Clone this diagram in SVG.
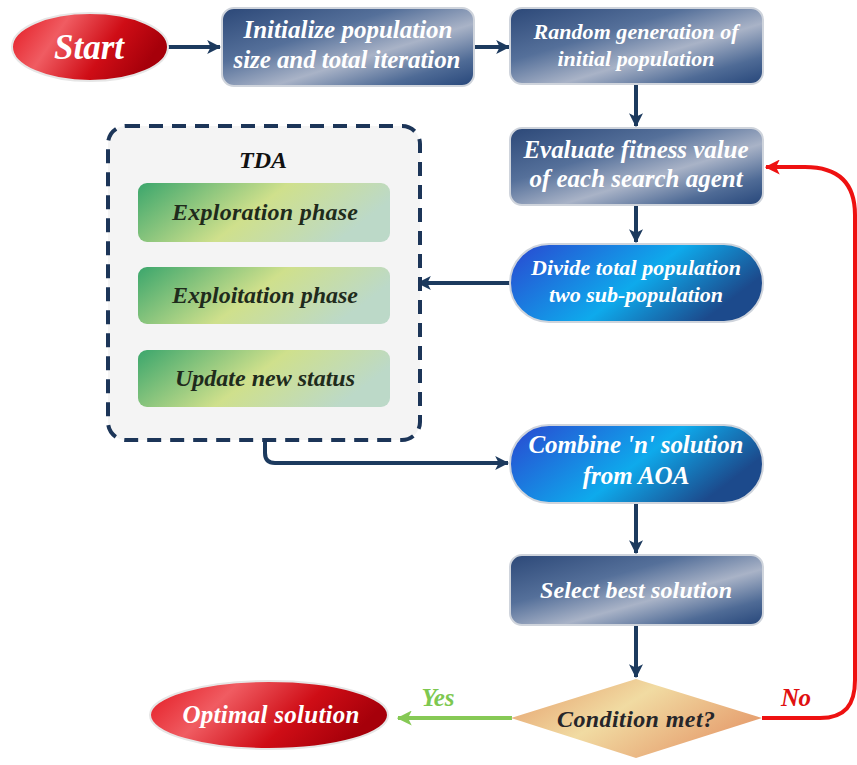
<svg xmlns="http://www.w3.org/2000/svg" width="857" height="765" viewBox="0 0 857 765">
  <defs>
    <linearGradient id="gNavy" x1="0" y1="0" x2="1" y2="1">
      <stop offset="0" stop-color="#2c4878"/>
      <stop offset="0.35" stop-color="#55709a"/>
      <stop offset="0.6" stop-color="#a9b3c7"/>
      <stop offset="0.82" stop-color="#4f6b96"/>
      <stop offset="1" stop-color="#26467a"/>
    </linearGradient>
    <linearGradient id="gBlue" x1="0" y1="0" x2="1" y2="0.4">
      <stop offset="0" stop-color="#2a46d0"/>
      <stop offset="0.6" stop-color="#0eaaec"/>
      <stop offset="1" stop-color="#1c4a8c"/>
    </linearGradient>
    <linearGradient id="gRed" x1="0" y1="0" x2="1" y2="0.3">
      <stop offset="0" stop-color="#e3161f"/>
      <stop offset="0.35" stop-color="#f05c62"/>
      <stop offset="0.7" stop-color="#cf0d16"/>
      <stop offset="1" stop-color="#a6000a"/>
    </linearGradient>
    <linearGradient id="gGreen" x1="0" y1="0" x2="1" y2="0.3">
      <stop offset="0" stop-color="#3ba66c"/>
      <stop offset="0.55" stop-color="#cfe08c"/>
      <stop offset="1" stop-color="#bcd9c8"/>
    </linearGradient>
    <linearGradient id="gTan" x1="0" y1="0" x2="1" y2="0.5">
      <stop offset="0" stop-color="#e49a68"/>
      <stop offset="0.5" stop-color="#f1dba2"/>
      <stop offset="1" stop-color="#e6a070"/>
    </linearGradient>
    <marker id="aNavy" viewBox="0 0 12 12" refX="11" refY="6" markerWidth="14" markerHeight="14" markerUnits="userSpaceOnUse" orient="auto">
      <path d="M0,0 L12,6 L0,12 L3,6 Z" fill="#1c3a5e"/>
    </marker>
    <marker id="aRed" viewBox="0 0 12 12" refX="11" refY="6" markerWidth="15" markerHeight="15" markerUnits="userSpaceOnUse" orient="auto">
      <path d="M0,0 L12,6 L0,12 L3,6 Z" fill="#ee1111"/>
    </marker>
    <marker id="aGreen" viewBox="0 0 12 12" refX="11" refY="6" markerWidth="15" markerHeight="15" markerUnits="userSpaceOnUse" orient="auto">
      <path d="M0,0 L12,6 L0,12 L3,6 Z" fill="#86c955"/>
    </marker>
  </defs>
  <style>
    text { font-family: "Liberation Serif", "Times New Roman", serif; font-weight: bold; font-style: italic; text-anchor: middle; }
    .lt { fill: #ffffff; }
    .dk { fill: #1f2b1c; }
    .box { stroke: #cfd4dc; stroke-width: 2; }
    .link { fill: none; stroke: #1c3a5e; stroke-width: 4; }
  </style>

  <rect width="857" height="765" fill="#ffffff"/>

  <g id="connectors">
    <path class="link" d="M168,47 H220" marker-end="url(#aNavy)"/>
    <path class="link" d="M474,47 H509" marker-end="url(#aNavy)"/>
    <path class="link" d="M636,84 V126" marker-end="url(#aNavy)"/>
    <path class="link" d="M636,205 V242" marker-end="url(#aNavy)"/>
    <path class="link" d="M510,283 H418" marker-end="url(#aNavy)"/>
    <path class="link" d="M265,440 V453 Q265,463 275,463 H508" marker-end="url(#aNavy)"/>
    <path class="link" d="M636,503 V553" marker-end="url(#aNavy)"/>
    <path class="link" d="M636,625 V677" marker-end="url(#aNavy)"/>
    <path d="M512,718 H398" fill="none" stroke="#86c955" stroke-width="4" marker-end="url(#aGreen)"/>
    <path d="M762,718 H820 C845,718 855,705 855,680 V215 C855,185 840,167 805,167 H766" fill="none" stroke="#ee1111" stroke-width="4" marker-end="url(#aRed)"/>
    <text x="438" y="706" font-size="25" fill="#7ec850" textLength="33">Yes</text>
    <text x="796" y="706" font-size="25" fill="#e01010" textLength="30">No</text>
  </g>

  <g id="start">
    <ellipse cx="90" cy="47" rx="78" ry="34" fill="url(#gRed)" stroke="#e6e6e6" stroke-width="2"/>
    <text class="lt" x="89" y="59" font-size="35">Start</text>
  </g>

  <g id="init">
    <rect class="box" x="222" y="8" width="252" height="78" rx="12" fill="url(#gNavy)"/>
    <text class="lt" x="348" y="38" font-size="25" textLength="209">Initialize population</text>
    <text class="lt" x="347" y="68" font-size="25" textLength="227">size and total iteration</text>
  </g>

  <g id="random">
    <rect class="box" x="510" y="8" width="253" height="76" rx="12" fill="url(#gNavy)"/>
    <text class="lt" x="636" y="39" font-size="22" textLength="205">Random generation of</text>
    <text class="lt" x="636" y="66" font-size="22">initial population</text>
  </g>

  <g id="evaluate">
    <rect class="box" x="510" y="128" width="253" height="77" rx="12" fill="url(#gNavy)"/>
    <text class="lt" x="636" y="158" font-size="25" textLength="225">Evaluate fitness value</text>
    <text class="lt" x="636" y="187" font-size="25">of each search agent</text>
  </g>

  <g id="divide">
    <rect class="box" x="510" y="244" width="253" height="78" rx="39" fill="url(#gBlue)"/>
    <text class="lt" x="636" y="275" font-size="22" textLength="210">Divide total population</text>
    <text class="lt" x="636" y="302" font-size="22">two sub-population</text>
  </g>

  <g id="tda">
    <rect x="108" y="126" width="312" height="314" rx="18" fill="#f4f4f4" stroke="#1c3558" stroke-width="4" stroke-dasharray="14 9"/>
    <text x="263" y="168" font-size="24" fill="#111111">TDA</text>
    <g id="exploration">
      <rect x="138" y="183" width="252" height="59" rx="9" fill="url(#gGreen)"/>
      <text class="dk" x="265" y="220" font-size="24" textLength="186">Exploration phase</text>
    </g>
    <g id="exploitation">
      <rect x="138" y="267" width="252" height="57" rx="9" fill="url(#gGreen)"/>
      <text class="dk" x="265" y="303" font-size="24">Exploitation phase</text>
    </g>
    <g id="update">
      <rect x="138" y="350" width="252" height="57" rx="9" fill="url(#gGreen)"/>
      <text class="dk" x="265" y="386" font-size="24">Update new status</text>
    </g>
  </g>

  <g id="combine">
    <rect class="box" x="510" y="425" width="253" height="78" rx="39" fill="url(#gBlue)"/>
    <text class="lt" x="636" y="453" font-size="25" textLength="215">Combine 'n' solution</text>
    <text class="lt" x="636" y="484" font-size="25">from AOA</text>
  </g>

  <g id="select">
    <rect class="box" x="510" y="555" width="253" height="70" rx="12" fill="url(#gNavy)"/>
    <text class="lt" x="636" y="598" font-size="24" textLength="192">Select best solution</text>
  </g>

  <g id="condition">
    <path d="M636,679 L762,718 L636,758 L511,718 Z" fill="url(#gTan)"/>
    <text x="636" y="727" font-size="24" fill="#26262a" textLength="158">Condition met?</text>
  </g>

  <g id="optimal">
    <ellipse cx="269" cy="715" rx="119" ry="34" fill="url(#gRed)" stroke="#e6e6e6" stroke-width="2"/>
    <text class="lt" x="271" y="723" font-size="25" textLength="177">Optimal solution</text>
  </g>
</svg>
